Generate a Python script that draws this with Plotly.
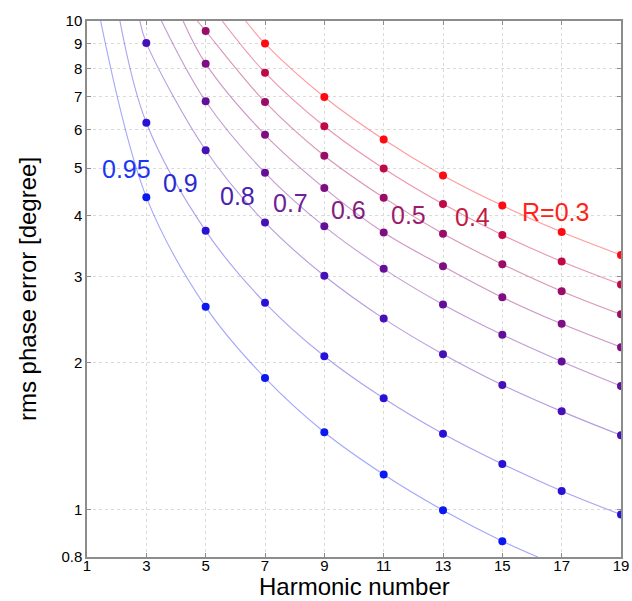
import math
import plotly.graph_objects as go

harmonics = [3, 5, 7, 9, 11, 13, 15, 17, 19]
R_labels = ["0.95", "0.9", "0.8", "0.7", "0.6", "0.5", "0.4", "R=0.3"]

err_095 = [4.36, 2.60, 1.86, 1.44, 1.18, 0.997, 0.862, None, None]
err_090 = [6.19, 3.72, 2.65, 2.06, 1.69, 1.43, 1.24, 1.092, 0.977]
err_080 = [9.02, 5.44, 3.87, 3.01, 2.46, 2.08, 1.80, 1.589, 1.42]
err_070 = [None, 6.85, 4.89, 3.80, 3.11, 2.63, 2.28, 2.01, 1.79]
err_060 = [None, 8.18, 5.85, 4.55, 3.69, 3.15, 2.72, 2.40, 2.15]
err_050 = [None, 9.54, 6.83, 5.30, 4.35, 3.67, 3.18, 2.80, 2.51]
err_040 = [None, None, 7.84, 6.09, 4.99, 4.22, 3.65, 3.22, 2.89]
err_030 = [None, None, 8.99, 6.99, 5.72, 4.83, 4.19, 3.70, 3.32]
series = [err_095, err_090, err_080, err_070, err_060, err_050, err_040, err_030]

# where each curve leaves the top edge (y = 10)
top_cross_x = [1.46, 2.11, 2.78, 3.51, 4.24, 4.72, 5.56, 6.35]
# 0.95 curve leaves the bottom edge (y = 0.8)
bottom_cross_095 = (16.2, 0.8)

# label anchor positions (data coords)
label_x = [2.33, 4.15, 6.07, 7.86, 9.81, 11.83, 13.98, 16.79]
label_y = [4.99, 4.66, 4.38, 4.24, 4.10, 4.00, 3.97, 4.06]

dot_colors = ["#0a18f2", "#2812d8", "#4610b8", "#640f9a", "#7e0e82", "#990d68",
              "#c00a46", "#ff0a12"]
line_colors = ["rgba(70,80,245,0.5)", "rgba(90,70,220,0.5)", "rgba(110,60,190,0.5)",
               "rgba(135,55,170,0.5)", "rgba(155,45,140,0.5)", "rgba(180,45,110,0.5)",
               "rgba(215,45,90,0.5)", "rgba(255,55,60,0.5)"]
label_colors = ["#1a36f5", "#2a2ad0", "#4a22b0", "#6e2098", "#851c80", "#9c1c6c",
                "#c01c46", "#ff2418"]

fig = go.Figure()
for i, vals in enumerate(series):
    xs = [top_cross_x[i]]
    ys = [10]
    for h, v in zip(harmonics, vals):
        if v is not None:
            xs.append(h)
            ys.append(v)
    if i == 0:
        xs.append(bottom_cross_095[0])
        ys.append(bottom_cross_095[1])
    fig.add_trace(go.Scatter(x=xs, y=ys, mode="lines",
                             line=dict(color=line_colors[i], width=1.1, shape="spline"),
                             hoverinfo="skip", showlegend=False))
    mx = [h for h, v in zip(harmonics, vals) if v is not None]
    my = [v for v in vals if v is not None]
    fig.add_trace(go.Scatter(x=mx, y=my, mode="markers",
                             marker=dict(color=dot_colors[i], size=8),
                             showlegend=False))
    fig.add_annotation(x=label_x[i], y=math.log10(label_y[i]), text=R_labels[i],
                       showarrow=False,
                       font=dict(size=25, color=label_colors[i],
                                 family="Liberation Sans, Arial"),
                       xanchor="center", yanchor="middle")

# x-axis title as a paper-anchored annotation
fig.add_annotation(x=0.5, y=0, xref="paper", yref="paper", text="Harmonic number",
                   showarrow=False, xanchor="center", yanchor="top", yshift=-14,
                   font=dict(size=24, color="black", family="Liberation Sans, Arial"))

y_ticks = [0.8, 1, 2, 3, 4, 5, 6, 7, 8, 9, 10]
x_ticks = [1, 3, 5, 7, 9, 11, 13, 15, 17, 19]

fig.update_layout(
    width=632, height=601,
    margin=dict(l=86.5, r=11.3, t=20.7, b=44.3),
    paper_bgcolor="white", plot_bgcolor="white",
    font=dict(family="Liberation Sans, Arial", color="black"),
    xaxis=dict(range=[1, 19], tickvals=x_ticks, ticktext=[str(t) for t in x_ticks],
               showgrid=True, gridcolor="#dadada", griddash="dot", gridwidth=1,
               showline=True, linecolor="#8c8c8c", linewidth=1.5, mirror="ticks",
               ticks="inside", ticklen=4, tickcolor="#8c8c8c", automargin=False,
               tickfont=dict(size=15), zeroline=False, ticklabelstandoff=-6),
    yaxis=dict(type="log", range=[-0.09691, 1], tickvals=y_ticks,
               ticktext=[str(t) for t in y_ticks],
               showgrid=True, gridcolor="#dadada", griddash="dot", gridwidth=1,
               showline=True, linecolor="#8c8c8c", linewidth=1.5, mirror="ticks",
               ticks="inside", ticklen=4, tickcolor="#8c8c8c", automargin=False,
               tickfont=dict(size=15), zeroline=False,
               title=dict(text="rms phase error [degree]", font=dict(size=24), standoff=18)),
)

# remove the default 8px page margin so the 632x601 figure fills the window exactly
fig.write_html("out.html", config={"displayModeBar": False},
               post_script="document.body.style.margin='0';document.body.style.overflow='hidden';")
